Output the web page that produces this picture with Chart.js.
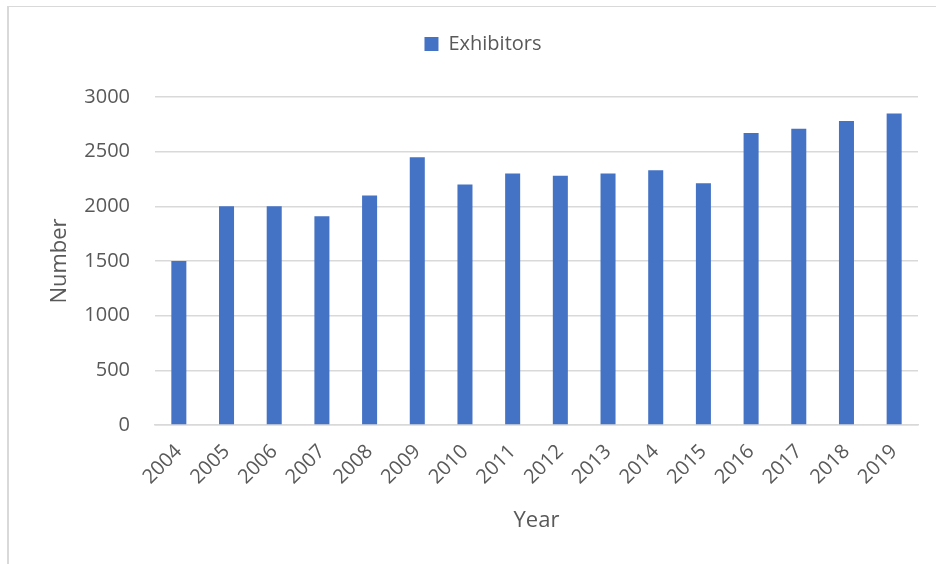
<!DOCTYPE html>
<html>
<head>
<meta charset="utf-8">
<title>Exhibitors by year</title>
<script src="https://cdn.jsdelivr.net/npm/chart.js@4/dist/chart.umd.min.js"></script>
<style>
  html, body { margin: 0; padding: 0; background: #fff; }
  #wrap { position: relative; width: 936px; height: 564px; overflow: hidden; }
  #frame {
    position: absolute; left: 7px; top: 6px; width: 1000px; height: 1000px;
    border-left: 2px solid #d9d9d9; border-top: 1px solid #d9d9d9;
  }
  canvas { position: absolute; left: 0; top: 0; }
</style>
</head>
<body>
<div id="wrap">
  <div id="frame"></div>
  <canvas id="chart" width="936" height="564"></canvas>
</div>
<script>
const years = ['2004', '2005', '2006', '2007', '2008', '2009', '2010', '2011',
               '2012', '2013', '2014', '2015', '2016', '2017', '2018', '2019'];
const exhibitors = [1500, 2000, 2000, 1910, 2100, 2450, 2200, 2300,
                    2280, 2300, 2330, 2210, 2670, 2710, 2780, 2850];
const yTicks = [0, 500, 1000, 1500, 2000, 2500, 3000];

const textColor = '#595959';
const gridColor = '#d9d9d9';
const fontFamily = '"Open Sans", "DejaVu Sans", sans-serif';

// push the plot area down below the legend and nudge the legend right
const legendSpacer = {
  id: 'legendSpacer',
  beforeInit(chart) {
    const fit = chart.legend.fit;
    chart.legend.fit = function () {
      fit.bind(chart.legend)();
      this.height = 73;
    };
  },
  afterLayout(chart) {
    chart.legend.left += 24;
    chart.legend.right += 24;
  }
};

new Chart(document.getElementById('chart').getContext('2d'), {
  type: 'bar',
  data: {
    labels: years,
    datasets: [{
      label: 'Exhibitors',
      data: exhibitors,
      backgroundColor: '#4472c4',
      borderWidth: 0,
      categoryPercentage: 0.35,
      barPercentage: 0.9
    }]
  },
  options: {
    responsive: false,
    animation: false,
    layout: { padding: { left: 0, right: 18, top: 24, bottom: 0 } },
    plugins: {
      legend: {
        position: 'top',
        labels: {
          color: textColor,
          boxWidth: 14,
          boxHeight: 14,
          padding: 10,
          font: { family: fontFamily, size: 20 }
        }
      },
      tooltip: { enabled: false }
    },
    scales: {
      x: {
        grid: { display: false, drawTicks: false },
        border: { display: true, color: gridColor, width: 1.5 },
        ticks: {
          color: textColor,
          minRotation: 45,
          maxRotation: 45,
          padding: 15,
          font: { family: fontFamily, size: 20 }
        },
        title: {
          display: true,
          text: 'Year',
          color: textColor,
          padding: { top: 0, bottom: 30 },
          font: { family: fontFamily, size: 22 }
        },
        afterFit(scale) { scale.height = 139; }
      },
      y: {
        min: 0,
        max: 3000,
        afterBuildTicks(scale) { scale.ticks = yTicks.map(v => ({ value: v })); },
        grid: { color: gridColor, lineWidth: 1.5, drawTicks: false },
        border: { display: false },
        ticks: {
          color: textColor,
          padding: 25,
          font: { family: fontFamily, size: 20 },
          callback: value => String(value)
        },
        title: {
          display: true,
          text: 'Number',
          color: textColor,
          padding: { top: 47, bottom: 0 },
          font: { family: fontFamily, size: 22 }
        },
        afterFit(scale) { scale.width = 155; }
      }
    }
  },
  plugins: [legendSpacer]
});
</script>
</body>
</html>
